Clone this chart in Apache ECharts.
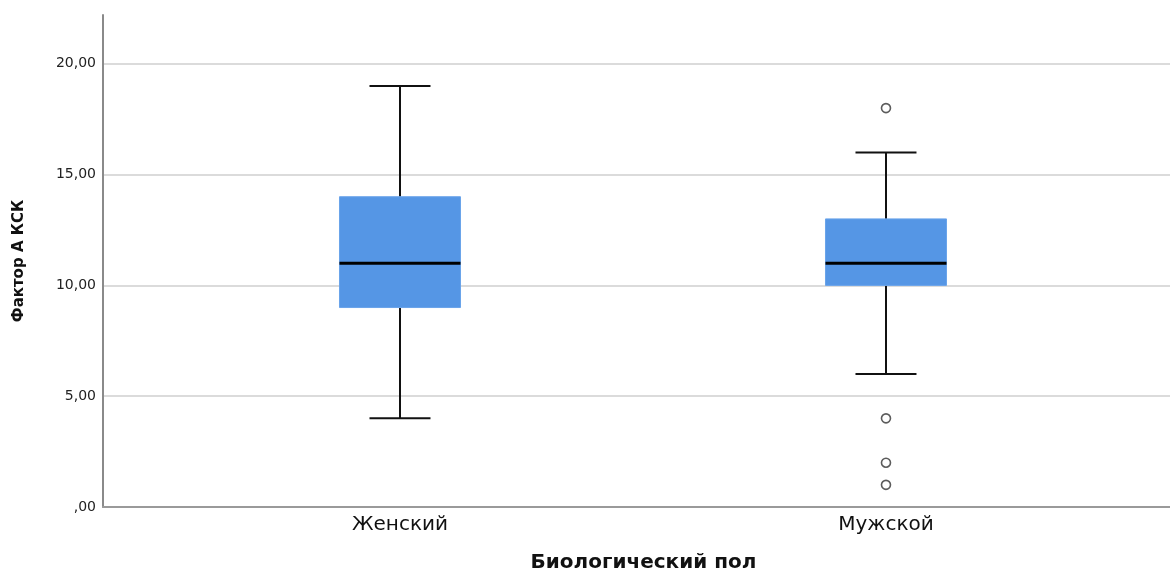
<!DOCTYPE html>
<html>
<head>
<meta charset="utf-8">
<script src="https://cdn.jsdelivr.net/npm/echarts@6/dist/echarts.min.js"></script>
<style>
  html, body { margin: 0; padding: 0; background: #fff; }
  #chart { width: 1170px; height: 573px; }
</style>
</head>
<body>
<div id="chart"></div>
<script>
// Groups and five-number summaries (min, Q1, median, Q3, max)
const categories = ['Женский', 'Мужской'];
const groupPositions = [1, 2];
const whiskerLow = [4, 6];
const quartile1 = [9, 10];
const medians = [11, 11];
const quartile3 = [14, 13];
const whiskerHigh = [19, 16];
// Outliers: group index and value
const outlierGroup = [1, 1, 1, 1];
const outlierValues = [18, 4, 2, 1];
const yTicks = [0, 5, 10, 15, 20];

const boxData = groupPositions.map((x, i) =>
  [x, whiskerLow[i], quartile1[i], medians[i], quartile3[i], whiskerHigh[i]]);
const outlierData = outlierValues.map((v, i) => [groupPositions[outlierGroup[i]], v]);

const BOX_W = 121;
const CAP_W = 61;

function renderBox(params, api) {
  const x = api.value(0);
  const pMin = api.coord([x, api.value(1)]);
  const pQ1 = api.coord([x, api.value(2)]);
  const pMed = api.coord([x, api.value(3)]);
  const pQ3 = api.coord([x, api.value(4)]);
  const pMax = api.coord([x, api.value(5)]);
  const cx = pMed[0];
  const line = { stroke: '#111', lineWidth: 2 };
  return {
    type: 'group',
    children: [
      { type: 'line', shape: { x1: cx, y1: pQ3[1], x2: cx, y2: pMax[1] }, style: line },
      { type: 'line', shape: { x1: cx, y1: pQ1[1], x2: cx, y2: pMin[1] }, style: line },
      { type: 'line', shape: { x1: cx - CAP_W / 2, y1: pMax[1], x2: cx + CAP_W / 2, y2: pMax[1] }, style: line },
      { type: 'line', shape: { x1: cx - CAP_W / 2, y1: pMin[1], x2: cx + CAP_W / 2, y2: pMin[1] }, style: line },
      { type: 'rect', shape: { x: cx - BOX_W / 2, y: pQ3[1], width: BOX_W, height: pQ1[1] - pQ3[1] },
        style: { fill: '#5596e5', stroke: '#6aa3ea', lineWidth: 1 } },
      { type: 'line', shape: { x1: cx - BOX_W / 2, y1: pMed[1], x2: cx + BOX_W / 2, y2: pMed[1] },
        style: { stroke: '#000', lineWidth: 3 } }
    ]
  };
}

const chart = echarts.init(document.getElementById('chart'), null, { renderer: 'canvas' });
chart.setOption({
  backgroundColor: '#ffffff',
  animation: false,
  grid: { left: 103, right: 0, top: 15, bottom: 66, containLabel: false, outerBoundsMode: 'none' },
  xAxis: {
    type: 'value',
    min: 0.3889,
    max: 2.5844,
    name: 'Биологический пол',
    nameLocation: 'middle',
    nameGap: 46,
    nameTextStyle: { fontFamily: 'DejaVu Sans', fontSize: 20, fontWeight: 'bold', color: '#111', padding: [0, 0, 0, 14] },
    axisLine: { show: true, lineStyle: { color: '#9a9a9a', width: 2 } },
    axisTick: { show: false },
    splitLine: { show: false },
    axisLabel: {
      customValues: groupPositions,
      margin: 8,
      fontFamily: 'DejaVu Sans',
      fontSize: 20,
      color: '#111',
      formatter: (v) => categories[groupPositions.indexOf(Math.round(v))] || ''
    }
  },
  yAxis: {
    type: 'value',
    min: 0,
    max: 22.2,
    interval: 5,
    name: 'Фактор А КСК',
    nameLocation: 'middle',
    nameGap: 76,
    nameTextStyle: { fontFamily: 'DejaVu Sans', fontSize: 15, fontWeight: 'bold', color: '#111' },
    axisLine: { show: true, lineStyle: { color: '#8a8a8a', width: 2 } },
    axisTick: { show: false },
    splitLine: { show: true, showMaxLine: false, lineStyle: { color: '#cfcfcf', width: 1.5 } },
    axisLabel: {
      showMaxLabel: false,
      margin: 7,
      fontFamily: 'DejaVu Sans',
      fontSize: 14,
      color: '#222',
      formatter: (v) => yTicks.indexOf(v) < 0 ? '' : (v === 0 ? ',00' : v.toFixed(2).replace('.', ','))
    }
  },
  series: [
    {
      type: 'custom',
      renderItem: renderBox,
      data: boxData,
      encode: { x: 0, y: [1, 2, 3, 4, 5] },
      z: 3
    },
    {
      type: 'scatter',
      data: outlierData,
      symbol: 'circle',
      symbolSize: 9,
      itemStyle: { color: '#ffffff', borderColor: '#333', borderWidth: 1.6 },
      z: 4
    }
  ]
});
</script>
</body>
</html>
